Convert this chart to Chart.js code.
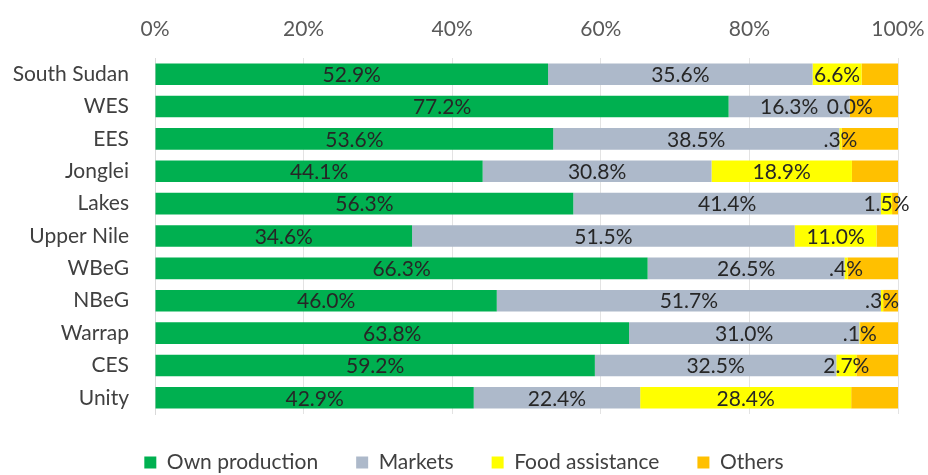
<!DOCTYPE html>
<html>
<head>
<meta charset="utf-8">
<script src="https://cdn.jsdelivr.net/npm/chart.js@4"></script>
<style>
  html, body { margin: 0; padding: 0; background: #fff; }
  #wrap { width: 928px; height: 475px; }
</style>
</head>
<body>
<div id="wrap"><canvas id="sourceChart"></canvas></div>
<script>
// Main food sources by state (% of households)
const regions = ['South Sudan', 'WES', 'EES', 'Jonglei', 'Lakes', 'Upper Nile', 'WBeG', 'NBeG', 'Warrap', 'CES', 'Unity'];
const ownProduction = [52.9, 77.2, 53.6, 44.1, 56.3, 34.6, 66.3, 46.0, 63.8, 59.2, 42.9];
const markets       = [35.6, 16.3, 38.5, 30.8, 41.4, 51.5, 26.5, 51.7, 31.0, 32.5, 22.4];
const foodAid       = [6.6, 0.0, 0.3, 18.9, 1.5, 11.0, 0.4, 0.3, 0.1, 2.7, 28.4];
const others        = [4.9, 6.5, 7.6, 6.2, 0.8, 2.9, 6.8, 2.0, 5.1, 5.6, 6.3];
const xTicks = [0, 20, 40, 60, 80, 100];

const FONT = "Lato, sans-serif";

// values under 1% drop the leading zero, the way the labels are printed
function pctText(v) {
    let t = v.toFixed(1) + '%';
    if (v > 0 && v < 1) t = t.replace(/^0/, '');
    return t;
}

// draws the value in the middle of each labelled segment
const segmentLabels = {
    id: 'segmentLabels',
    afterDatasetsDraw(chart) {
        const ctx = chart.ctx;
        ctx.save();
        ctx.font = '21px ' + FONT;
        ctx.fillStyle = '#262626';
        ctx.textAlign = 'center';
        ctx.textBaseline = 'middle';
        chart.data.datasets.forEach((ds, i) => {
            if (!ds.showValues) return;
            chart.getDatasetMeta(i).data.forEach((bar, j) => {
                const cx = (bar.x + bar.base) / 2;
                ctx.fillText(pctText(ds.data[j]), cx, bar.y + 1);
            });
        });
        ctx.restore();
    }
};

new Chart(document.getElementById('sourceChart'), {
    type: 'bar',
    data: {
        labels: regions,
        datasets: [
            { label: 'Own production', data: ownProduction, backgroundColor: '#00B050', showValues: true },
            { label: 'Markets', data: markets, backgroundColor: '#ADB9CA', showValues: true },
            { label: 'Food assistance', data: foodAid, backgroundColor: '#FFFF00', showValues: true },
            { label: 'Others', data: others, backgroundColor: '#FFC000', showValues: false }
        ]
    },
    options: {
        indexAxis: 'y',
        responsive: true,
        maintainAspectRatio: false,
        animation: false,
        barPercentage: 0.667,
        categoryPercentage: 1,
        layout: { padding: { top: 0, right: 0, left: 0, bottom: -8 } },
        plugins: {
            legend: {
                position: 'bottom',
                labels: {
                    color: '#404040',
                    font: { family: FONT, size: 21 },
                    boxWidth: 12,
                    boxHeight: 12,
                    padding: 38
                }
            },
            tooltip: { enabled: false }
        },
        scales: {
            x: {
                position: 'top',
                stacked: true,
                min: 0,
                max: 100,
                afterBuildTicks: (scale) => { scale.ticks = xTicks.map(v => ({ value: v })); },
                afterFit: (scale) => {
                    scale.height = 58;
                    scale.paddingLeft = 0;
                    scale.paddingRight = 30;
                },
                grid: { color: '#e3e3e3', drawTicks: false },
                border: { display: false },
                ticks: {
                    padding: 16,
                    color: '#595959',
                    font: { family: FONT, size: 21 },
                    callback: (v) => v + '%'
                }
            },
            y: {
                stacked: true,
                afterFit: (scale) => { scale.width = 155; },
                grid: { display: false, drawTicks: false },
                border: { color: '#d9d9d9' },
                ticks: {
                    padding: 26,
                    color: '#404040',
                    font: { family: FONT, size: 21 }
                }
            }
        }
    },
    plugins: [segmentLabels]
});
</script>
</body>
</html>
